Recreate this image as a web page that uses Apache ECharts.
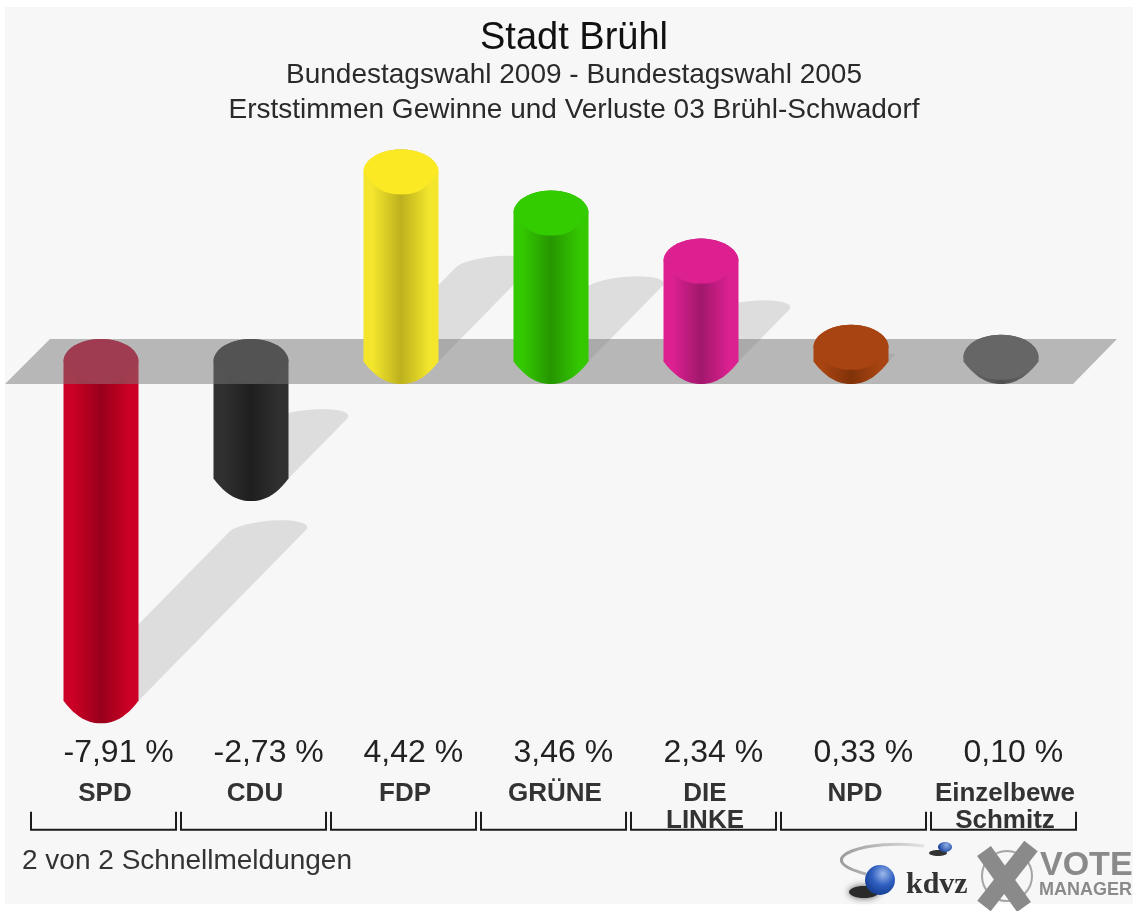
<!DOCTYPE html>
<html>
<head>
<meta charset="utf-8">
<title>Stadt Brühl</title>
<style>
  html, body { margin: 0; padding: 0; background: #fff; }
  #main { width: 1133px; height: 911px; filter: blur(0.7px); }
</style>
<script src="https://cdn.jsdelivr.net/npm/echarts@6/dist/echarts.min.js"></script>
</head>
<body>
<div id="main"></div>
<script>
// Ergebnisse
const categories = ["SPD", "CDU", "FDP", "GRÜNE", "DIE\nLINKE", "NPD", "Einzelbewe\nSchmitz"];
const values = [-7.91, -2.73, 4.42, 3.46, 2.34, 0.33, 0.1];

// cap, edge and centre colour of each column
const capColors = ["#c8002a", "#2e2e2e", "#fbe924", "#33cc00", "#dc2090", "#a84412", "#666666"];
const edgeColors = ["#cc0026", "#303030", "#f4e62c", "#33c800", "#dc2090", "#a84412", "#666666"];
const midColors = ["#98001a", "#1f1f1f", "#bdb01e", "#269600", "#a0186c", "#803208", "#505050"];

const FONT = '"Liberation Sans", Arial, sans-serif';
const TEXT = "#222";

function pairs(filter) {
  return values.map((v, i) => [i, v]).filter((d) => filter(d[1]));
}

// lower edge of a column or cap, a bit pointed like the old chart images
function lowerCap(cx, cy, rx, ry, power) {
  const pts = [];
  for (let k = 0; k <= 24; k++) {
    const u = 1 - k / 12;
    pts.push([cx + rx * u, cy + ry * (1 - Math.pow(Math.abs(u), power))]);
  }
  return pts;
}
function upperCap(cx, cy, rx, ry) {
  const pts = [];
  for (let k = 0; k <= 24; k++) {
    const t = Math.PI + (Math.PI * k) / 24;
    pts.push([cx + rx * Math.cos(t), cy + ry * Math.sin(t)]);
  }
  return pts;
}

function renderColumn(params, api) {
  const i = api.value(0);
  const p = api.coord([i, api.value(1)]);
  const zero = api.coord([i, 0]);
  const rx = api.size([1, 0])[0] / 4;
  const ry = rx * 0.6;
  const top = Math.min(p[1], zero[1]);
  const bottom = Math.max(p[1], zero[1]);
  const body = upperCap(p[0], top, rx, ry).concat(lowerCap(p[0], bottom, rx, ry, 2.2));
  const cap = upperCap(p[0], top, rx, ry).concat(lowerCap(p[0], top, rx, ry, 2.6));
  return {
    type: "group",
    children: [
      {
        type: "polygon",
        shape: { points: body },
        style: {
          fill: new echarts.graphic.LinearGradient(0, 0, 1, 0, [
            { offset: 0, color: edgeColors[i] },
            { offset: 0.12, color: edgeColors[i] },
            { offset: 0.5, color: midColors[i] },
            { offset: 0.88, color: edgeColors[i] },
            { offset: 1, color: edgeColors[i] },
          ]),
        },
      },
      { type: "polygon", shape: { points: cap }, style: { fill: capColors[i] } },
    ],
  };
}

// shadow runs up and to the right from the lower end, as long as the column is tall
function renderShadow(params, api) {
  const i = api.value(0);
  const p = api.coord([i, api.value(1)]);
  const zero = api.coord([i, 0]);
  const rx = api.size([1, 0])[0] / 4;
  const h = Math.abs(p[1] - zero[1]);
  const ax = p[0];
  const ay = Math.max(p[1], zero[1]);
  const fx = ax + h * 0.49;
  const fy = ay - h * 0.5;
  const lean = Math.min(14, h * 0.14);
  const flat = Math.min(11, h * 0.11);
  const pts = [[ax - rx, ay]];
  for (let k = 0; k <= 24; k++) {
    const t = Math.PI + (Math.PI * k) / 24;
    pts.push([fx + rx * Math.cos(t) - lean * Math.sin(t), fy + flat * Math.sin(t)]);
  }
  pts.push([ax + rx, ay]);
  return { type: "polygon", shape: { points: pts }, style: { fill: "rgba(0,0,0,0.1)" } };
}

function renderBand(params, api) {
  const first = api.coord([0, 0]);
  const last = api.coord([categories.length - 1, 0]);
  const y = first[1];
  return {
    type: "polygon",
    shape: {
      points: [
        [first[0] - 96, y + 22.5],
        [first[0] - 51, y - 22.5],
        [last[0] + 116, y - 22.5],
        [last[0] + 72, y + 22.5],
      ],
    },
    style: { fill: "rgba(120,120,120,0.5)" },
  };
}

function renderFoot(params, api) {
  const i = api.value(0);
  const v = api.value(1);
  const x = api.coord([i, 0])[0];
  const low = api.coord([i, -8])[1];
  const rx = api.size([1, 0])[0] / 4;
  return {
    type: "group",
    children: [
      {
        type: "polyline",
        shape: {
          points: [
            [x - 70, low + 107],
            [x - 70, low + 125],
            [x + 75, low + 125],
            [x + 75, low + 107],
          ],
        },
        style: { fill: "none", stroke: "#1c1c1c", lineWidth: 2 },
      },
      {
        type: "text",
        x: x - rx,
        y: low + 48,
        style: {
          text: v.toFixed(2).replace(".", ",") + " %",
          fontFamily: FONT,
          fontSize: 32,
          fill: TEXT,
          align: "left",
          verticalAlign: "middle",
        },
      },
    ],
  };
}

const chart = echarts.init(document.getElementById("main"), null, { renderer: "canvas" });

chart.setOption({
  animation: false,
  backgroundColor: "#ffffff",
  title: {
    text: "Stadt Brühl",
    subtext: "Bundestagswahl 2009 - Bundestagswahl 2005\nErststimmen Gewinne und Verluste 03 Brühl-Schwadorf",
    left: 569,
    top: 15,
    textAlign: "center",
    itemGap: 0,
    textStyle: { fontFamily: FONT, fontSize: 38, fontWeight: "normal", color: "#111" },
    subtextStyle: { fontFamily: FONT, fontSize: 28, lineHeight: 35, color: "#2a2a2a" },
  },
  grid: { left: 26, width: 1050, top: 147, height: 557.7 },
  xAxis: {
    type: "category",
    data: categories,
    axisLine: { show: false },
    axisTick: { show: false },
    axisLabel: {
      interval: 0,
      margin: 76,
      padding: [0, 0, 0, 8],
      fontFamily: FONT,
      fontSize: 26,
      fontWeight: "bold",
      lineHeight: 27,
      color: "#333",
    },
  },
  yAxis: { type: "value", min: -8, max: 5, show: false },
  graphic: [
    { type: "rect", z: -10, shape: { x: 5, y: 7, width: 1128, height: 897 }, style: { fill: "#f7f7f7" } },
    {
      type: "text",
      x: 22,
      y: 861,
      style: {
        text: "2 von 2 Schnellmeldungen",
        fontFamily: FONT,
        fontSize: 28,
        fill: "#333",
        verticalAlign: "middle",
      },
    },
    // kdvz logo
    {
      type: "bezierCurve",
      shape: { x1: 924, y1: 846, cpx1: 870, cpy1: 838, cpx2: 805, cpy2: 858, x2: 866, y2: 874 },
      style: {
        fill: "none",
        stroke: new echarts.graphic.LinearGradient(0, 0, 1, 0, [
          { offset: 0, color: "#9a9a9a" },
          { offset: 1, color: "#e4e4e4" },
        ]),
        lineWidth: 3,
      },
    },
    { type: "ellipse", shape: { cx: 938, cy: 853, rx: 9, ry: 3 }, style: { fill: "#333" } },
    {
      type: "ellipse",
      shape: { cx: 945, cy: 847, rx: 7, ry: 5 },
      style: {
        fill: new echarts.graphic.RadialGradient(0.6, 0.3, 0.8, [
          { offset: 0, color: "#8fb0e8" },
          { offset: 1, color: "#1d45a0" },
        ]),
      },
    },
    {
      type: "ellipse",
      shape: { cx: 864, cy: 892, rx: 15, ry: 6 },
      style: { fill: "#2a2a2a", shadowBlur: 7, shadowColor: "#555" },
    },
    {
      type: "circle",
      shape: { cx: 880, cy: 880, r: 15 },
      style: {
        fill: new echarts.graphic.RadialGradient(0.6, 0.3, 0.75, [
          { offset: 0, color: "#9db8ea" },
          { offset: 0.5, color: "#2f5fc0" },
          { offset: 1, color: "#123a8c" },
        ]),
      },
    },
    {
      type: "text",
      x: 906,
      y: 885,
      style: {
        text: "kdvz",
        fontFamily: '"Liberation Serif", serif',
        fontSize: 30,
        fontWeight: "bold",
        fill: "#333",
        verticalAlign: "middle",
      },
    },
    // vote manager logo
    { type: "circle", shape: { cx: 1007, cy: 876, r: 25 }, style: { fill: "none", stroke: "#a5a5a5", lineWidth: 2 } },
    { type: "line", shape: { x1: 984, y1: 851, x2: 1024, y2: 907 }, style: { stroke: "#8a8a8a", lineWidth: 17 } },
    { type: "line", shape: { x1: 1031, y1: 846, x2: 984, y2: 906 }, style: { stroke: "#8a8a8a", lineWidth: 17 } },
    {
      type: "text",
      x: 1040,
      y: 866,
      style: { text: "VOTE", fontFamily: FONT, fontSize: 34, fontWeight: "bold", fill: "#8a8a8a", verticalAlign: "middle" },
    },
    {
      type: "text",
      x: 1039,
      y: 890,
      style: { text: "MANAGER", fontFamily: FONT, fontSize: 18, fontWeight: "bold", fill: "#8a8a8a", verticalAlign: "middle" },
    },
  ],
  series: [
    { type: "custom", z: 1, renderItem: renderShadow, data: pairs(() => true), silent: true },
    { type: "custom", z: 2, renderItem: renderColumn, data: pairs((v) => v < 0), silent: true },
    { type: "custom", z: 3, renderItem: renderBand, data: [[0, 0]], silent: true },
    { type: "custom", z: 4, renderItem: renderColumn, data: pairs((v) => v >= 0), silent: true },
    { type: "custom", z: 5, renderItem: renderFoot, data: pairs(() => true), silent: true },
  ],
});
</script>
</body>
</html>
